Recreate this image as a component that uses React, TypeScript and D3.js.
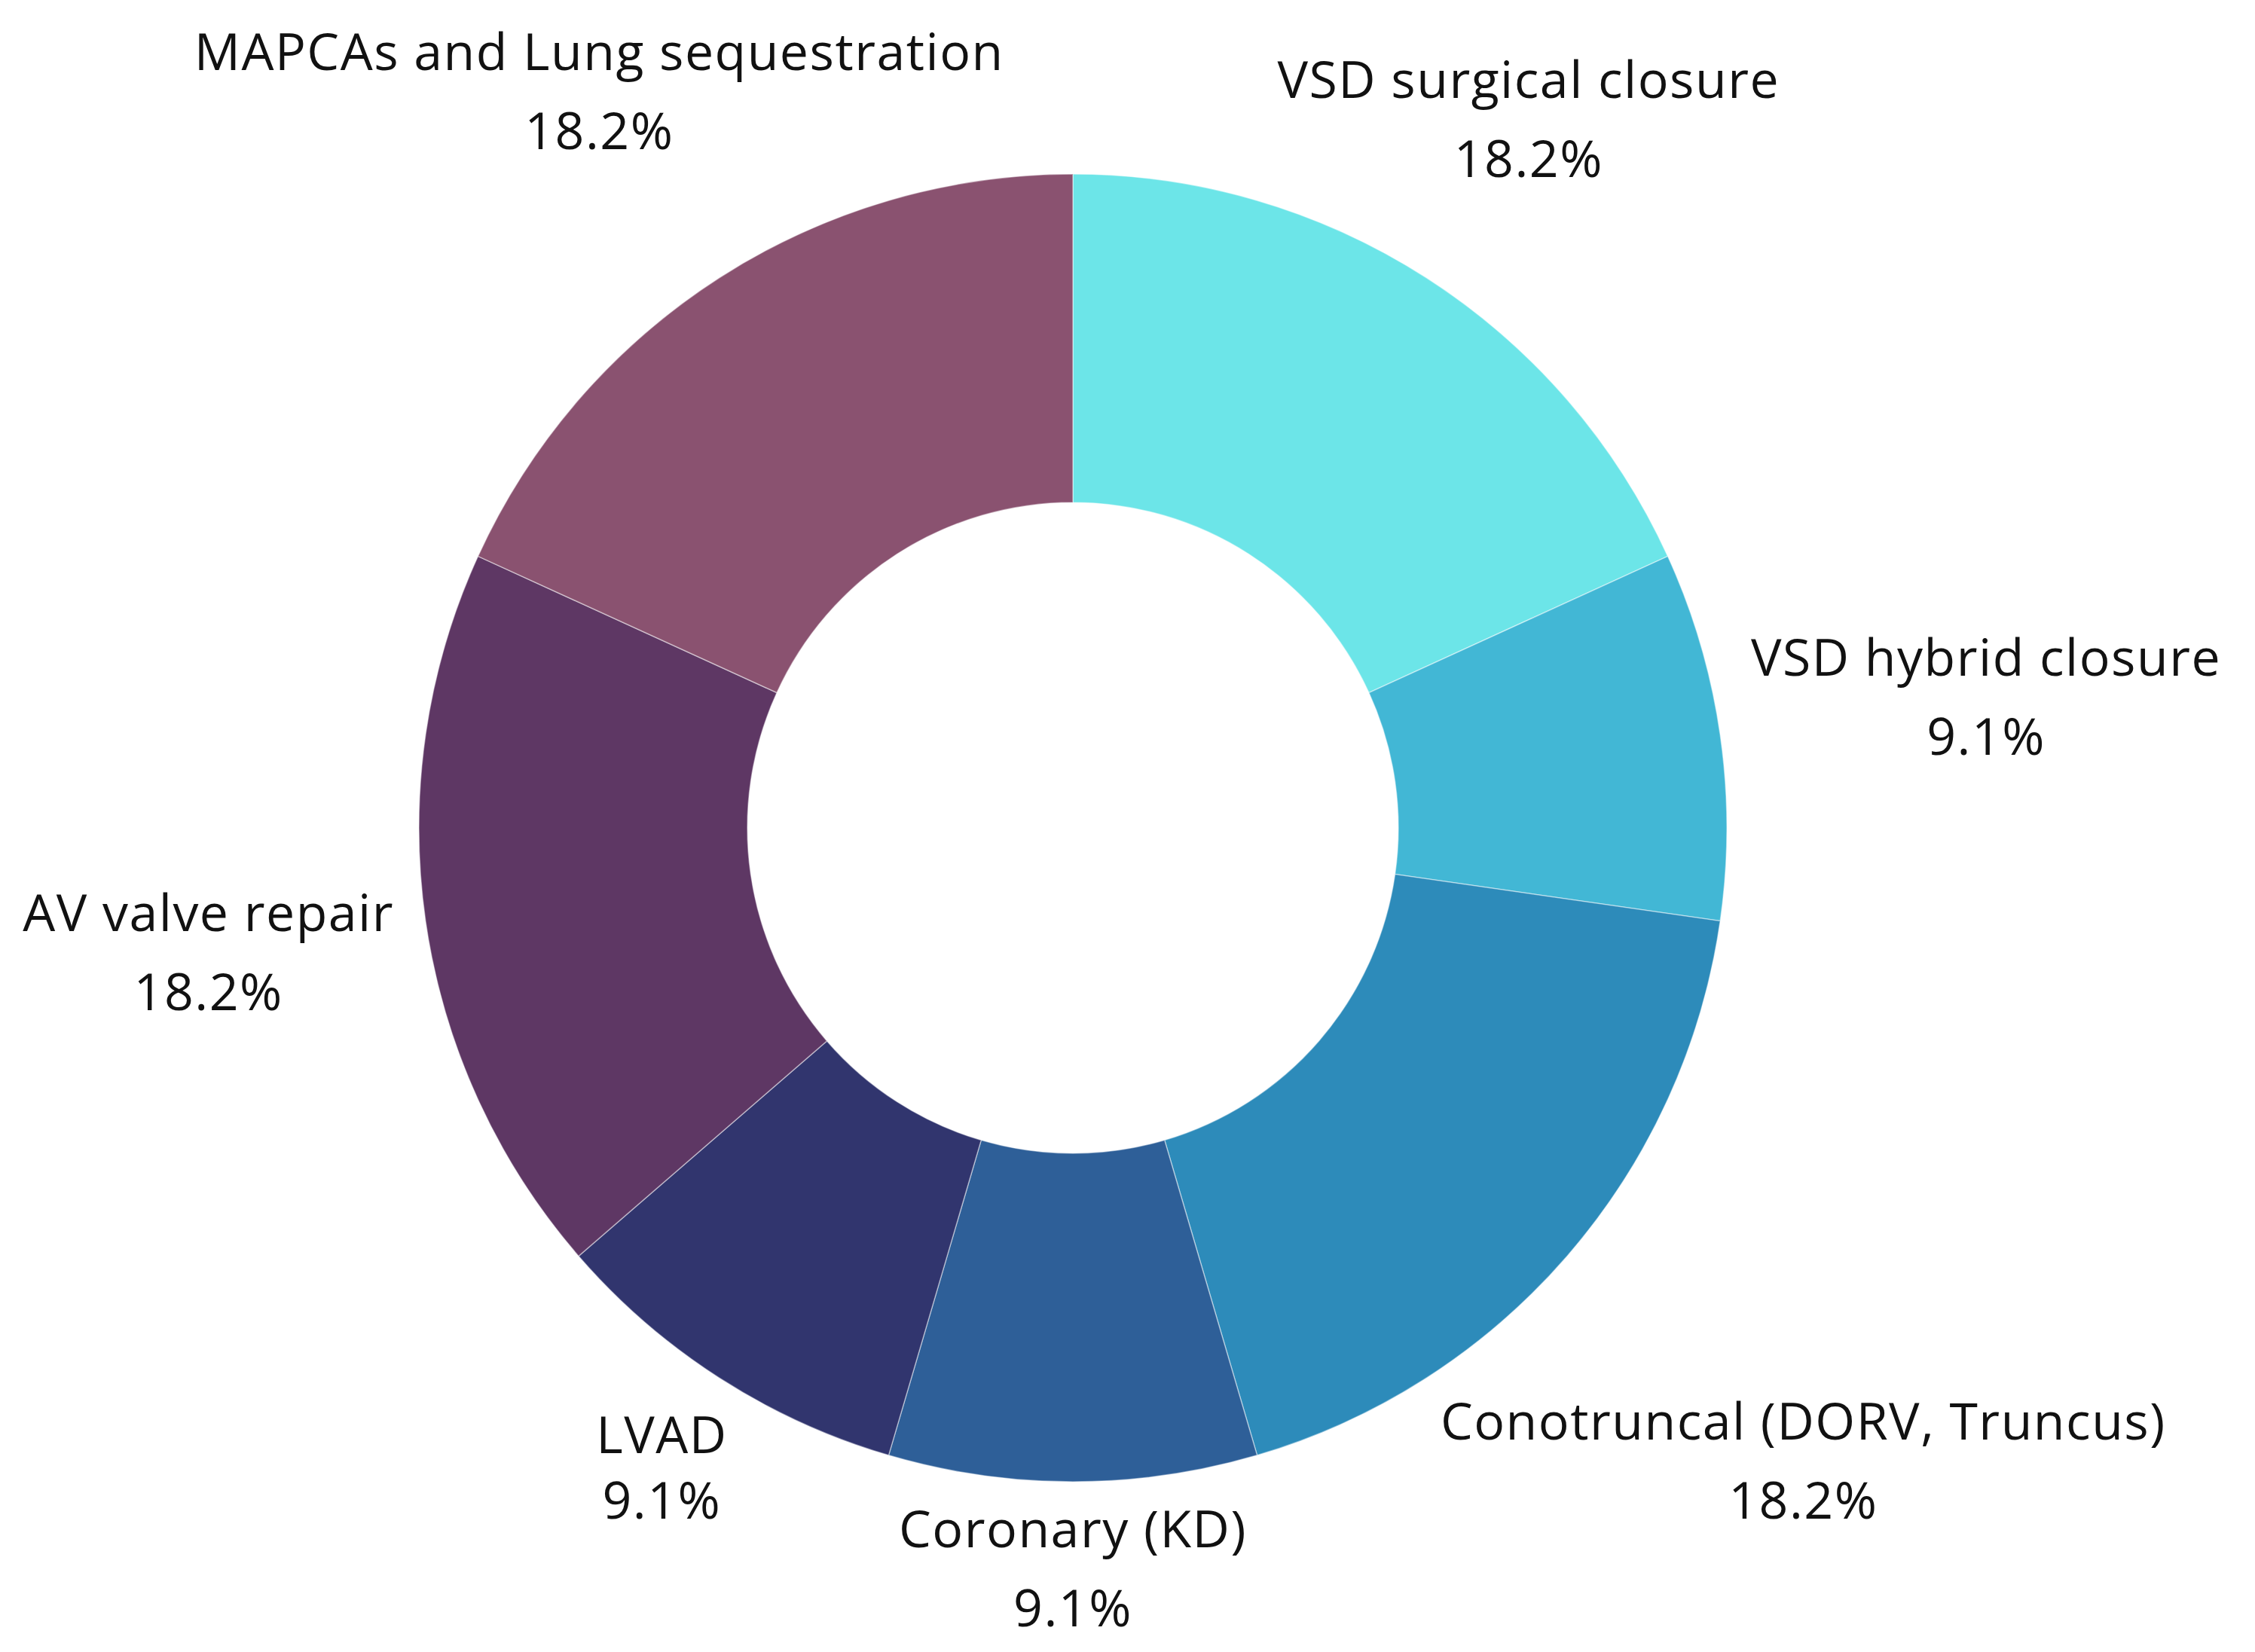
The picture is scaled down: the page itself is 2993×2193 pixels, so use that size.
import React, { useMemo } from "react";
import * as d3 from "d3";

const categories = [
  "VSD surgical closure",
  "VSD hybrid closure",
  "Conotruncal (DORV, Truncus)",
  "Coronary (KD)",
  "LVAD",
  "AV valve repair",
  "MAPCAs and Lung sequestration",
];
const counts = [2, 1, 2, 1, 1, 2, 2];
const percentLabels = ["18.2%", "9.1%", "18.2%", "9.1%", "9.1%", "18.2%", "18.2%"];
const colors = ["#6CE5E8", "#42B7D5", "#2D8BBA", "#2E5F98", "#31356E", "#5E3764", "#8A5270"];

const W = 2993;
const H = 2193;
const CX = 1424;
const CY = 1099;
const R_OUT = 868;
const R_IN = 432;
const FONT_SIZE = 68;
const LETTER_SPACING = 1.5;
const FONT = "'Open Sans', 'Noto Sans', sans-serif";
const CAP = 49;
const LINE_GAP = 105;
const LINE_GAP_TIGHT = 87; // LVAD label uses tighter spacing in the reference
const LABEL_GAP = 38;

let ctx: CanvasRenderingContext2D | null = null;
function measure(text: string): number {
  if (!ctx) {
    const c = document.createElement("canvas");
    ctx = c.getContext("2d");
  }
  const base = ctx
    ? (() => {
        ctx!.font = `${FONT_SIZE}px 'Open Sans'`;
        return ctx!.measureText(text).width;
      })()
    : text.length * FONT_SIZE * 0.55;
  return base + LETTER_SPACING * (text.length - 1);
}

function nearestDist(cx: number, cy: number, hw: number, top: number, bottom: number) {
  const x0 = cx - hw, x1 = cx + hw;
  const y0 = cy + top, y1 = cy + bottom;
  const nx = Math.max(x0, Math.min(0, x1));
  const ny = Math.max(y0, Math.min(0, y1));
  return Math.hypot(nx, ny);
}

export default function App() {
  const arcs = useMemo(
    () => d3.pie<number>().sort(null).value((d) => d)(counts),
    []
  );
  const arcGen = d3.arc<d3.PieArcDatum<number>>().innerRadius(R_IN).outerRadius(R_OUT);

  const labels = arcs.map((a, i) => {
    const mid = (a.startAngle + a.endAngle) / 2;
    const dx = Math.sin(mid);
    const dy = -Math.cos(mid);
    const hw = Math.max(measure(categories[i]), measure(percentLabels[i])) / 2;
    const gap = categories[i] === "LVAD" ? LINE_GAP_TIGHT : LINE_GAP;
    const total = CAP + gap;
    const top = -total / 2;
    const bottom = total / 2;
    let lo = R_OUT, hi = R_OUT * 2;
    for (let k = 0; k < 60; k++) {
      const m = (lo + hi) / 2;
      const dist = nearestDist(dx * m, dy * m, hw, top, bottom);
      if (dist < R_OUT + LABEL_GAP) lo = m;
      else hi = m;
    }
    const d = (lo + hi) / 2;
    const lx = dx * d;
    const ly = dy * d;
    const nameBaseline = ly + top + CAP;
    return { x: lx, nameY: nameBaseline, pctY: nameBaseline + gap };
  });

  return (
    <svg
      width={W}
      height={H}
      viewBox={`0 0 ${W} ${H}`}
      style={{ position: "absolute", left: 0, top: 0, background: "#fff" }}
    >
      <rect width={W} height={H} fill="#fff" />
      <g transform={`translate(${CX},${CY})`}>
        {arcs.map((a, i) => (
          <path
            key={categories[i]}
            d={arcGen(a) || ""}
            fill={colors[i]}
            stroke="#ffffff"
            strokeOpacity={0.45}
            strokeWidth={1.5}
          />
        ))}
        {labels.map((l, i) => (
          <g
            key={"l" + i}
            fontFamily={FONT}
            fontSize={FONT_SIZE}
            letterSpacing={LETTER_SPACING}
            fill="#111"
            textAnchor="middle"
          >
            <text x={l.x} y={l.nameY}>{categories[i]}</text>
            <text x={l.x} y={l.pctY}>{percentLabels[i]}</text>
          </g>
        ))}
      </g>
    </svg>
  );
}
